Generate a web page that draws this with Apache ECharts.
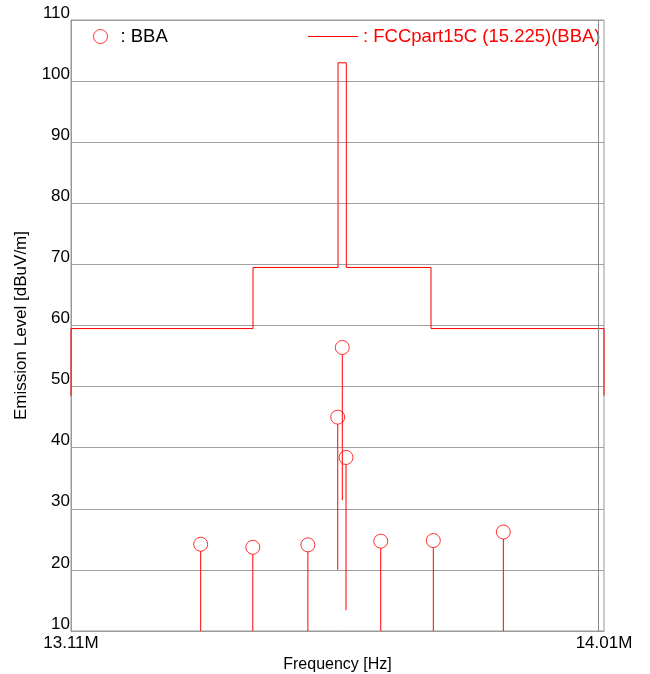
<!DOCTYPE html>
<html><head><meta charset="utf-8">
<script src="https://cdn.jsdelivr.net/npm/echarts@6/dist/echarts.min.js"></script>
<style>html,body{margin:0;padding:0;background:#fff}#c{width:650px;height:674px}</style>
</head><body><div id="c"></div>
<script>
// Emission measurements (BBA): frequency [MHz], level [dBuV/m], stem end [dBuV/m]
const emissionFreq  = [13.329, 13.417, 13.510, 13.5604, 13.5681, 13.5744, 13.633, 13.7218, 13.840];
const emissionLevel = [24.2, 23.7, 24.1, 45.0, 56.4, 38.4, 24.7, 24.8, 26.2];
const stemBase      = [10, 10, 10, 20, 31.4, 13.4, 10, 10, 10];
// Limit line FCC part 15C (15.225)
const limitFreq  = [13.11, 13.11, 13.4173, 13.4173, 13.5609, 13.5609, 13.5749, 13.5749, 13.7179, 13.7179, 14.01, 14.01];
const limitLevel = [48.5, 59.5, 59.5, 69.5, 69.5, 103, 103, 69.5, 69.5, 59.5, 59.5, 48.5];
// Axis
const xTickValues = [13.11, 14.01];
const innerFrameFreq = 14.0016;
const yMin = 10, yMax = 110, yStep = 10;

const RED = '#ff0000';
const FONT = 'Liberation Sans, Arial, sans-serif';

const chart = echarts.init(document.getElementById('c'), null, {renderer: 'canvas'});
const emissionData = emissionFreq.map((f, i) => [f, emissionLevel[i], stemBase[i]]);
const limitData = limitFreq.map((f, i) => [f, limitLevel[i]]);

chart.setOption({
  animation: false,
  backgroundColor: '#fff',
  textStyle: {fontFamily: FONT},
  grid: {left: 71, top: 20, right: 46, bottom: 43, show: true, borderColor: '#999', borderWidth: 1,
         containLabel: false, outerBoundsMode: 'none'},
  legend: [
    {
      left: 93, top: 27, padding: 0, selectedMode: false,
      itemWidth: 14, itemHeight: 14,
      data: [{name: 'BBA', icon: 'circle', itemStyle: {color: 'transparent', borderColor: RED, borderWidth: 1}}],
      formatter: n => ': ' + n,
      textStyle: {fontSize: 18.5, color: '#000', fontFamily: FONT, padding: [0, 0, 0, 8]}
    },
    {
      left: 308, top: 27, padding: 0, selectedMode: false,
      itemWidth: 50, itemHeight: 1,
      data: [{name: 'FCCpart15C (15.225)(BBA)', icon: 'rect', itemStyle: {color: RED}}],
      formatter: n => ': ' + n,
      textStyle: {fontSize: 18.5, color: RED, fontFamily: FONT}
    }
  ],
  xAxis: {
    type: 'value', min: 13.11, max: 14.01,
    name: 'Frequency [Hz]', nameLocation: 'middle', nameGap: 23,
    nameTextStyle: {fontSize: 16, color: '#000', fontFamily: FONT},
    axisLine: {show: true, lineStyle: {color: '#999', width: 1}},
    axisTick: {show: false},
    splitLine: {show: false},
    axisLabel: {customValues: xTickValues, formatter: v => v.toFixed(2) + 'M', fontSize: 17, color: '#000', margin: 4, fontFamily: FONT}
  },
  yAxis: {
    type: 'value', min: yMin, max: yMax, interval: yStep,
    name: 'Emission Level [dBuV/m]', nameLocation: 'middle', nameGap: 41,
    nameTextStyle: {fontSize: 17, color: '#000', fontFamily: FONT},
    axisLine: {show: true, lineStyle: {color: '#999', width: 1}},
    axisTick: {show: false},
    splitLine: {show: true, lineStyle: {color: '#a0a0a0', width: 1}},
    axisLabel: {fontSize: 17, color: '#000', margin: 1, verticalAlign: 'bottom', lineHeight: 14, fontFamily: FONT}
  },
  series: [
    {
      name: 'FCCpart15C (15.225)(BBA)', type: 'line', data: limitData,
      symbol: 'none', showSymbol: false,
      lineStyle: {color: RED, width: 1}, itemStyle: {color: RED},
      z: 3,
      markLine: {
        silent: true, symbol: 'none', label: {show: false},
        lineStyle: {color: '#888', width: 1, type: 'solid'},
        data: [{xAxis: innerFrameFreq}]
      }
    },
    {
      name: 'BBA-stems', type: 'custom', data: emissionData, z: 2,
      encode: {x: 0, y: [1, 2]},
      renderItem: (params, api) => {
        const top = api.coord([api.value(0), api.value(1)]);
        const bot = api.coord([api.value(0), api.value(2)]);
        return {type: 'line', shape: {x1: top[0], y1: top[1] + 7, x2: bot[0], y2: bot[1]},
                style: {stroke: RED, lineWidth: 1}};
      }
    },
    {
      name: 'BBA', type: 'scatter', data: emissionData.map(d => [d[0], d[1]]),
      symbol: 'circle', symbolSize: 14, z: 4,
      itemStyle: {color: 'transparent', borderColor: RED, borderWidth: 1}
    }
  ]
});
</script></body></html>
